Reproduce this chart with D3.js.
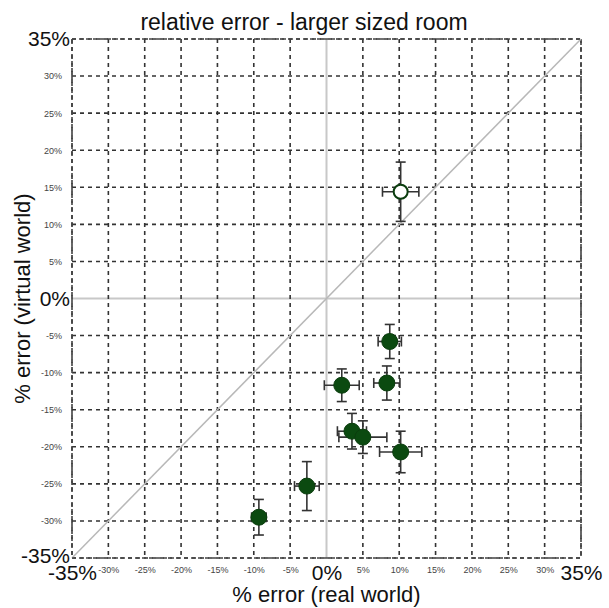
<!DOCTYPE html>
<html>
  <head>
    <meta charset="utf-8">
    <title>relative error - larger sized room</title>
    <script src="https://d3js.org/d3.v7.min.js"></script>
    <style>
      body { margin: 0; background: #fff; }
      text { font-family: "Liberation Sans", Arial, sans-serif; }
    </style>
  </head>
  <body>
    <svg width="609" height="608"></svg>

    <script>
      // data (percent)
      const realErr    = [10.2, 8.7, 2.1, 8.3, 3.5, 5.0, 10.2, -2.7, -9.3];
      const virtualErr = [14.4, -5.8, -11.7, -11.4, -17.9, -18.7, -20.7, -25.3, -29.5];
      const realSpread    = [2.5, 1.6, 2.4, 1.8, 2.0, 3.3, 2.9, 1.7, 1.0];
      const virtualSpread = [4.0, 2.3, 2.2, 2.3, 2.4, 2.2, 2.8, 3.3, 2.4];
      const openPoint  = [true, false, false, false, false, false, false, false, false];
      const tickValues = [-35, -30, -25, -20, -15, -10, -5, 0, 5, 10, 15, 20, 25, 30, 35];
      const bigTicks   = [-35, 0, 35];

      const data = realErr.map((d, i) => ({
        x: d, y: virtualErr[i], ex: realSpread[i], ey: virtualSpread[i], open: openPoint[i]
      }));

      const width = 609, height = 608;
      const margin = { top: 39, right: 28, bottom: 50, left: 72 };
      const innerWidth = width - margin.left - margin.right;
      const innerHeight = height - margin.top - margin.bottom;

      const x = d3.scaleLinear().domain([-35, 35]).range([0, innerWidth]);
      const y = d3.scaleLinear().domain([-35, 35]).range([innerHeight, 0]);

      const svg = d3.select("svg");

      svg.append("text")
        .attr("x", 304)
        .attr("y", 30)
        .attr("text-anchor", "middle")
        .attr("font-size", 23)
        .attr("fill", "#111")
        .text("relative error - larger sized room");

      const g = svg.append("g")
        .attr("transform", `translate(${margin.left},${margin.top})`);

      // zero lines
      g.append("line")
        .attr("x1", x(0)).attr("x2", x(0))
        .attr("y1", 0).attr("y2", innerHeight)
        .attr("stroke", "#c8c8c8").attr("stroke-width", 2);
      g.append("line")
        .attr("x1", 0).attr("x2", innerWidth)
        .attr("y1", y(0)).attr("y2", y(0))
        .attr("stroke", "#c8c8c8").attr("stroke-width", 2);

      // dashed grid
      const gridVals = tickValues.filter(v => v !== 0);
      g.selectAll(".vgrid").data(gridVals).enter().append("line")
        .attr("x1", d => x(d)).attr("x2", d => x(d))
        .attr("y1", 0).attr("y2", innerHeight)
        .attr("stroke", "#333").attr("stroke-width", 1.6)
        .attr("stroke-dasharray", "4,4");
      g.selectAll(".hgrid").data(gridVals).enter().append("line")
        .attr("y1", d => y(d)).attr("y2", d => y(d))
        .attr("x1", 0).attr("x2", innerWidth)
        .attr("stroke", "#333").attr("stroke-width", 1.6)
        .attr("stroke-dasharray", "4,4");

      // diagonal
      g.append("line")
        .attr("x1", x(-35)).attr("y1", y(-35))
        .attr("x2", x(35)).attr("y2", y(35))
        .attr("stroke", "#b8b8b8").attr("stroke-width", 1.5);

      // axes (labels only)
      const fmt = d => d + "%";
      const xAxis = g.append("g")
        .attr("transform", `translate(0,${innerHeight})`)
        .call(d3.axisBottom(x).tickValues(tickValues).tickFormat(fmt).tickSize(0).tickPadding(6));
      xAxis.select(".domain").remove();
      xAxis.selectAll("text")
        .attr("font-family", "'DejaVu Sans', Verdana, sans-serif")
        .attr("font-size", 9)
        .attr("fill", "#444")
        .attr("dy", "0.95em");
      xAxis.selectAll(".tick").filter(d => bigTicks.includes(d)).select("text")
        .attr("font-family", "'Liberation Sans', Arial, sans-serif")
        .attr("font-size", 21)
        .attr("fill", "#111")
        .attr("dy", "0.8em")
        .attr("y", 5);

      const yAxis = g.append("g")
        .call(d3.axisLeft(y).tickValues(tickValues).tickFormat(fmt).tickSize(0).tickPadding(10));
      yAxis.select(".domain").remove();
      yAxis.selectAll("text")
        .attr("font-family", "'DejaVu Sans', Verdana, sans-serif")
        .attr("font-size", 9)
        .attr("fill", "#444");
      yAxis.selectAll(".tick").filter(d => bigTicks.includes(d)).select("text")
        .attr("font-family", "'Liberation Sans', Arial, sans-serif")
        .attr("font-size", 21)
        .attr("fill", "#111")
        .attr("x", -2);
      yAxis.selectAll(".tick").filter(d => d === -35).select("text")
        .attr("dy", "0.2em");

      // dashed frame
      g.append("rect")
        .attr("width", innerWidth).attr("height", innerHeight)
        .attr("fill", "none")
        .attr("stroke", "#444").attr("stroke-width", 1.6)
        .attr("stroke-dasharray", "4,3");

      // axis titles
      svg.append("text")
        .attr("x", margin.left + innerWidth / 2)
        .attr("y", 602)
        .attr("text-anchor", "middle")
        .attr("font-size", 22)
        .attr("fill", "#111")
        .text("% error (real world)");
      svg.append("text")
        .attr("transform", `translate(30,${margin.top + innerHeight / 2}) rotate(-90)`)
        .attr("text-anchor", "middle")
        .attr("font-size", 22)
        .attr("fill", "#111")
        .text("% error (virtual world)");

      // error bars
      const cap = 5;
      const bars = g.append("g").attr("stroke", "#333").attr("stroke-width", 1.6);
      data.forEach(d => {
        bars.append("line").attr("x1", x(d.x - d.ex)).attr("x2", x(d.x + d.ex))
          .attr("y1", y(d.y)).attr("y2", y(d.y));
        bars.append("line").attr("x1", x(d.x - d.ex)).attr("x2", x(d.x - d.ex))
          .attr("y1", y(d.y) - cap).attr("y2", y(d.y) + cap);
        bars.append("line").attr("x1", x(d.x + d.ex)).attr("x2", x(d.x + d.ex))
          .attr("y1", y(d.y) - cap).attr("y2", y(d.y) + cap);
        bars.append("line").attr("x1", x(d.x)).attr("x2", x(d.x))
          .attr("y1", y(d.y - d.ey)).attr("y2", y(d.y + d.ey));
        bars.append("line").attr("x1", x(d.x) - cap).attr("x2", x(d.x) + cap)
          .attr("y1", y(d.y - d.ey)).attr("y2", y(d.y - d.ey));
        bars.append("line").attr("x1", x(d.x) - cap).attr("x2", x(d.x) + cap)
          .attr("y1", y(d.y + d.ey)).attr("y2", y(d.y + d.ey));
      });

      // points
      g.selectAll(".pt").data(data).enter().append("circle")
        .attr("cx", d => x(d.x))
        .attr("cy", d => y(d.y))
        .attr("r", d => d.open ? 7 : 8)
        .attr("fill", d => d.open ? "#fff" : "#0b4a10")
        .attr("stroke", "#0b3d0e")
        .attr("stroke-width", d => d.open ? 2 : 1);
    </script>
  </body>
</html>
